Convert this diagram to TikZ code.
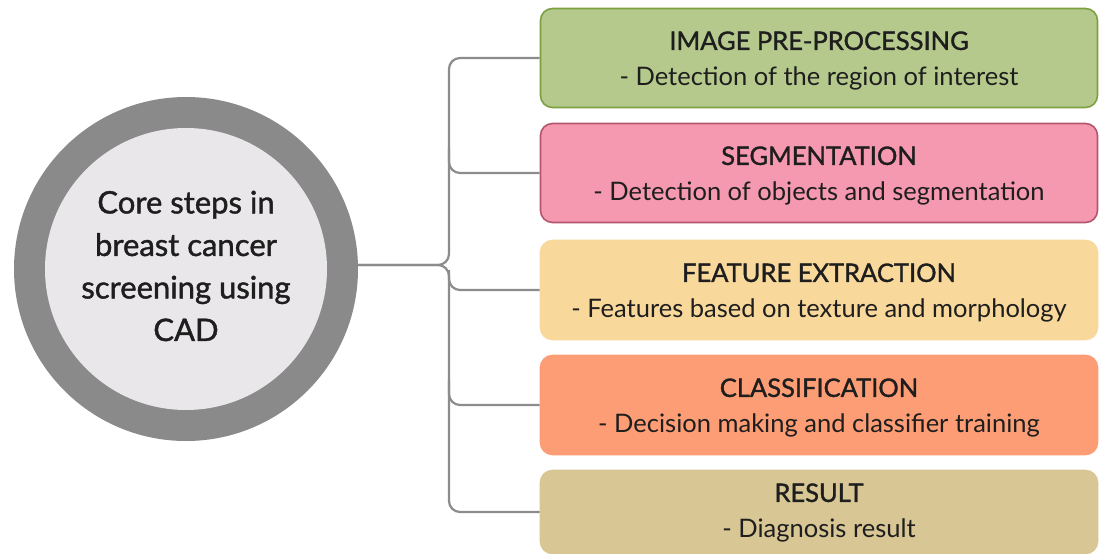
\documentclass[tikz,border=0pt]{standalone}
\usepackage{fontspec}
\setmainfont{Lato}
\newfontfamily\latomed{Lato}[FakeBold=1.3]
\usetikzlibrary{calc}
\definecolor{ringgray}{HTML}{8A8A8A}
\definecolor{innergray}{HTML}{E9E7EA}
\definecolor{conngray}{HTML}{8C8C8C}
\definecolor{greenfill}{HTML}{B5C98C}
\definecolor{greenline}{HTML}{7DA040}
\definecolor{pinkfill}{HTML}{F599B0}
\definecolor{pinkline}{HTML}{B5566F}
\definecolor{yellowfill}{HTML}{F9D89B}
\definecolor{salmonfill}{HTML}{FD9D75}
\definecolor{tanfill}{HTML}{D8C694}
\definecolor{txt}{HTML}{1E1E1E}
\newcommand{\ttl}[1]{{\latomed #1}}
\tikzset{
  stepbox/.style={rectangle, rounded corners=12pt, minimum width=557pt, minimum height=99pt,
    line width=1.6pt, inner sep=0pt},
  steptext/.style={align=center, text=txt, font=\fontsize{25.5}{36}\selectfont, inner sep=0pt},
  conn/.style={draw=conngray, line width=2.2pt, rounded corners=11pt},
}
\begin{document}
\begin{tikzpicture}[x=1pt,y=-1pt]
\useasboundingbox[fill=white] (0,0) rectangle (1100,554);
% central circle
\node[circle, fill=ringgray, minimum size=344pt, inner sep=0pt] (c) at (186,269) {};
\node[circle, fill=innergray, minimum size=282pt, inner sep=0pt] (ci) at (c.center) {};
\node[align=center, text=txt, font=\fontsize{31}{42.5}\selectfont\latomed, inner sep=0pt]
  (ct) at ([yshift=3pt]c.center) {Core steps in\\breast cancer\\screening using\\CAD};
% boxes
\node[stepbox, fill=greenfill, draw=greenline] (b1) at (819,58) {};
\node[stepbox, fill=pinkfill, draw=pinkline] (b2) at (819,173) {};
\node[stepbox, fill=yellowfill, draw=yellowfill] (b3) at (819,290) {};
\node[stepbox, fill=salmonfill, draw=salmonfill] (b4) at (819,405) {};
\node[stepbox, fill=tanfill, draw=tanfill, minimum height=83pt] (b5) at (819,512) {};
% box texts
\node[steptext] (t1) at ([yshift=-3pt]b1.center) {\ttl{IMAGE PRE-PROCESSING}\\- Detection of the region of interest};
\node[steptext] (t2) at ([yshift=-3pt]b2.center) {\ttl{SEGMENTATION}\\- Detection of objects and segmentation};
\node[steptext] (t3) at ([yshift=-3pt]b3.center) {\ttl{FEATURE EXTRACTION}\\- Features based on texture and morphology};
\node[steptext] (t4) at ([yshift=-3pt]b4.center) {\ttl{CLASSIFICATION}\\- Decision making and classifier training};
\node[steptext] (t5) at ([yshift=-1pt]b5.center) {\ttl{RESULT}\\- Diagnosis result};
% connectors
\coordinate (j) at (449,265);
\coordinate (ce) at (c.east |- j);
\draw[conn] (ce) -- (j) -- (j |- b1.west) -- (b1.west);
\draw[conn] (ce) -- (j) -- (j |- b5.west) -- (b5.west);
\draw[conn] ($(j |- b2.west)+(0,-25)$) -- (j |- b2.west) -- (b2.west);
\draw[conn] ($(j |- b3.west)+(0,-20)$) -- (j |- b3.west) -- (b3.west);
\draw[conn] ($(j |- b4.west)+(0,-25)$) -- (j |- b4.west) -- (b4.west);
\end{tikzpicture}
\end{document}
